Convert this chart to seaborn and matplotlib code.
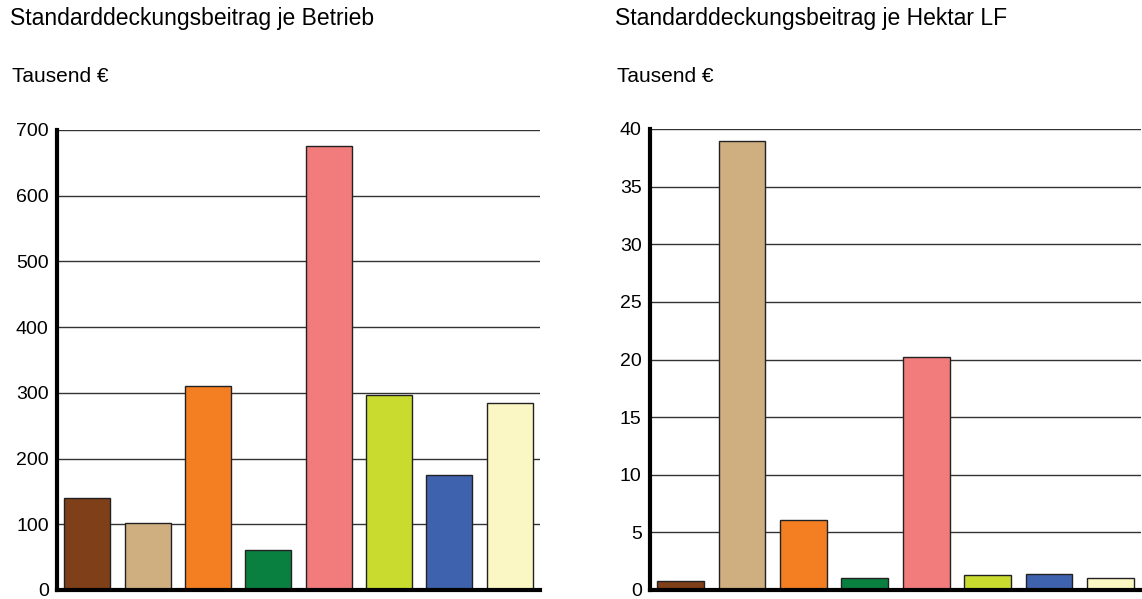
import matplotlib
matplotlib.use("Agg")
import matplotlib.pyplot as plt
import seaborn as sns
import pandas as pd

categories = ["Kat1", "Kat2", "Kat3", "Kat4", "Kat5", "Kat6", "Kat7", "Kat8"]
colors = ["#7F4019", "#CFAF80", "#F47F22", "#0A8040", "#F27C7C", "#C8DB2E", "#3F62AE", "#FAF7C4"]
betrieb = [140, 102, 311, 61, 676, 296, 175, 284]
hektar = [0.8, 39.0, 6.1, 1.05, 20.2, 1.27, 1.38, 1.05]
left_ticks = [0, 100, 200, 300, 400, 500, 600, 700]
right_ticks = [0, 5, 10, 15, 20, 25, 30, 35, 40]

sns.set_theme(style="white")
plt.rcParams["font.family"] = ["Liberation Sans", "DejaVu Sans"]

fig = plt.figure(figsize=(11.42, 5.99), dpi=100)
ax1 = fig.add_axes([57/1142, 1-590/599, (540-57)/1142, (590-130)/599])
ax2 = fig.add_axes([650/1142, 1-590/599, (1141-650)/1142, (590-129)/599])

def draw(ax, vals, ticks):
    df = pd.DataFrame({"cat": categories, "val": vals})
    sns.barplot(data=df, x="cat", y="val", hue="cat", palette=colors, legend=False,
                ax=ax, width=0.76, edgecolor="#222222", linewidth=1, saturation=1, zorder=3)
    ax.set_xlim(-0.5, 7.5)
    ax.set_ylim(ticks[0], ticks[-1])
    ax.set_yticks(ticks)
    ax.set_yticklabels([str(t) for t in ticks], fontsize=14, color="black")
    ax.set_xticks([])
    ax.set_xlabel("")
    ax.set_ylabel("")
    ax.grid(axis="y", color="#333333", linewidth=1, zorder=0)
    ax.set_axisbelow(True)
    for s in ["top", "right"]:
        ax.spines[s].set_visible(False)
    for s in ["left", "bottom"]:
        ax.spines[s].set_color("black")
        ax.spines[s].set_linewidth(3)
        ax.spines[s].set_zorder(5)
    ax.tick_params(axis="y", length=0, pad=6)

draw(ax1, betrieb, left_ticks)
draw(ax2, hektar, right_ticks)

fig.text(10/1142, 1-19/599, "Standarddeckungsbeitrag je Betrieb", fontsize=16.5, va="center", ha="left", color="black")
fig.text(12/1142, 1-77/599, "Tausend €", fontsize=15, va="center", ha="left", color="black")
fig.text(615/1142, 1-19/599, "Standarddeckungsbeitrag je Hektar LF", fontsize=16.5, va="center", ha="left", color="black")
fig.text(617/1142, 1-77/599, "Tausend €", fontsize=15, va="center", ha="left", color="black")

fig.savefig("out.png", dpi=100)
